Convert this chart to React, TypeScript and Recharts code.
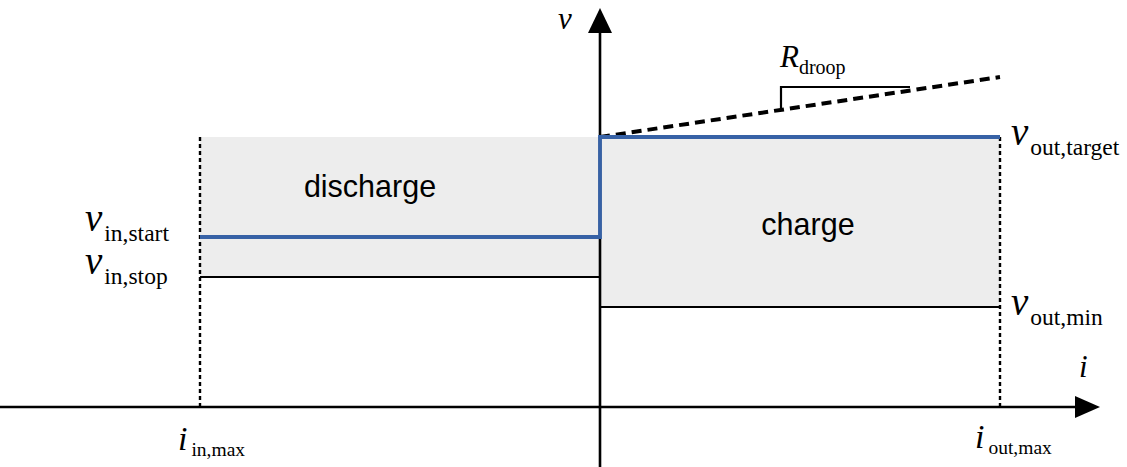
import React from 'react';
import { ComposedChart, Line, Scatter, XAxis, YAxis, ReferenceArea } from 'recharts';

// operating points, both axes in the diagram's own (normalised) units
const iInMax = -400;
const iOutMax = 400;
const vOutTarget = 270;
const vInStart = 170;
const vInStop = 130;
const vOutMin = 100;
const vDroopEnd = 330;

const blueCurve = [
  { i: iInMax, v: vInStart },
  { i: 0, v: vInStart },
  { i: 0, v: vOutTarget },
  { i: iOutMax, v: vOutTarget },
];
const stopLine = [
  { i: iInMax, v: vInStop },
  { i: 0, v: vInStop },
];
const minLine = [
  { i: 0, v: vOutMin },
  { i: iOutMax, v: vOutMin },
];
const droopLine = [
  { i: 0, v: vOutTarget },
  { i: iOutMax, v: vDroopEnd },
];
const droopBracket = [
  { i: 181, v: 299 },
  { i: 181, v: 320 },
  { i: 310, v: 320 },
];
const leftLimit = [
  { i: iInMax, v: 0 },
  { i: iInMax, v: vOutTarget },
];
const rightLimit = [
  { i: iOutMax, v: 0 },
  { i: iOutMax, v: vOutTarget },
];
const iAxis = [
  { i: -600, v: 0 },
  { i: 476, v: 0 },
];
const vAxis = [
  { i: 0, v: -60 },
  { i: 0, v: 376 },
];
const arrowTips = [
  { i: 500, v: 0, dir: 'right' },
  { i: 0, v: 399, dir: 'up' },
];

const mathLabels = [
  { i: -42, v: 378, main: 'v', sub: '', kind: 'axis' },
  { i: 479, v: 30, main: 'i', sub: '', kind: 'axis' },
  { i: 180, v: 340, main: 'R', sub: 'droop', kind: 'r' },
  { i: 411, v: 262, main: 'v', sub: 'out,target', kind: 'v' },
  { i: -515, v: 176, main: 'v', sub: 'in,start', kind: 'v' },
  { i: -515, v: 133, main: 'v', sub: 'in,stop', kind: 'v' },
  { i: 411, v: 92, main: 'v', sub: 'out,min', kind: 'v' },
  { i: -422, v: -43, main: 'i', sub: 'in,max', kind: 'i' },
  { i: 375, v: -41, main: 'i', sub: 'out,max', kind: 'i' },
];
const regionLabels = [
  { i: -230, v: 210, text: 'discharge' },
  { i: 208, v: 172, text: 'charge' },
];

const labelStyle: Record<string, { size: number; subSize: number; dy: number; gap: number }> = {
  axis: { size: 31, subSize: 20, dy: 0, gap: 0 },
  r: { size: 31, subSize: 20, dy: 7, gap: 0 },
  v: { size: 39, subSize: 23.5, dy: 10, gap: 2 },
  i: { size: 34, subSize: 19.5, dy: 6, gap: 4 },
};

const MathLabel = (props: any) => {
  const { cx, cy, payload } = props;
  const s = labelStyle[payload.kind];
  return (
    <text x={cx} y={cy} fontFamily="Liberation Serif" fill="#000">
      <tspan fontStyle="italic" fontSize={s.size}>{payload.main}</tspan>
      {payload.sub && (
        <tspan fontSize={s.subSize} dx={s.gap} dy={s.dy}>{payload.sub}</tspan>
      )}
    </text>
  );
};

const RegionLabel = (props: any) => {
  const { cx, cy, payload } = props;
  return (
    <text x={cx} y={cy} textAnchor="middle" fontFamily="Liberation Sans" fontSize={30.5} fill="#000">
      {payload.text}
    </text>
  );
};

const Arrow = (props: any) => {
  const { cx, cy, payload } = props;
  const pts =
    payload.dir === 'right'
      ? `${cx},${cy} ${cx - 25},${cy - 11} ${cx - 25},${cy + 11}`
      : `${cx},${cy} ${cx - 12},${cy + 25} ${cx + 12},${cy + 25}`;
  return <polygon points={pts} fill="#000" />;
};

const seg = (data: any[], stroke: string, width: number, dash?: string) => (
  <Line
    data={data}
    dataKey="v"
    type="linear"
    stroke={stroke}
    strokeWidth={width}
    strokeDasharray={dash}
    dot={false}
    activeDot={false}
    isAnimationActive={false}
    strokeLinecap="butt"
  />
);

export default function App() {
  return (
    <div style={{ position: 'absolute', left: 0, top: 0, background: '#fff' }}>
      <ComposedChart width={1127} height={467} margin={{ top: 0, right: 0, bottom: 0, left: 0 }}>
        <XAxis type="number" dataKey="i" domain={[-600, 527]} allowDataOverflow hide />
        <YAxis type="number" dataKey="v" domain={[-60, 407]} allowDataOverflow hide />
        <ReferenceArea x1={iInMax} x2={0} y1={vInStop} y2={vOutTarget} fill="#ededed" fillOpacity={1} stroke="none" />
        <ReferenceArea x1={0} x2={iOutMax} y1={vOutMin} y2={vOutTarget} fill="#ededed" fillOpacity={1} stroke="none" />
        {seg(leftLimit, '#000', 2.4, '4 3')}
        {seg(rightLimit, '#000', 2.4, '4 3')}
        {seg(stopLine, '#000', 2.2)}
        {seg(minLine, '#000', 2.2)}
        {seg(iAxis, '#000', 2.6)}
        {seg(vAxis, '#000', 2.6)}
        {seg(droopLine, '#000', 4, '10 6')}
        {seg(droopBracket, '#000', 2.2)}
        {seg(blueCurve, '#3762a6', 3.8)}
        <Scatter data={arrowTips} dataKey="v" shape={<Arrow />} isAnimationActive={false} />
        <Scatter data={mathLabels} dataKey="v" shape={<MathLabel />} isAnimationActive={false} />
        <Scatter data={regionLabels} dataKey="v" shape={<RegionLabel />} isAnimationActive={false} />
      </ComposedChart>
    </div>
  );
}
